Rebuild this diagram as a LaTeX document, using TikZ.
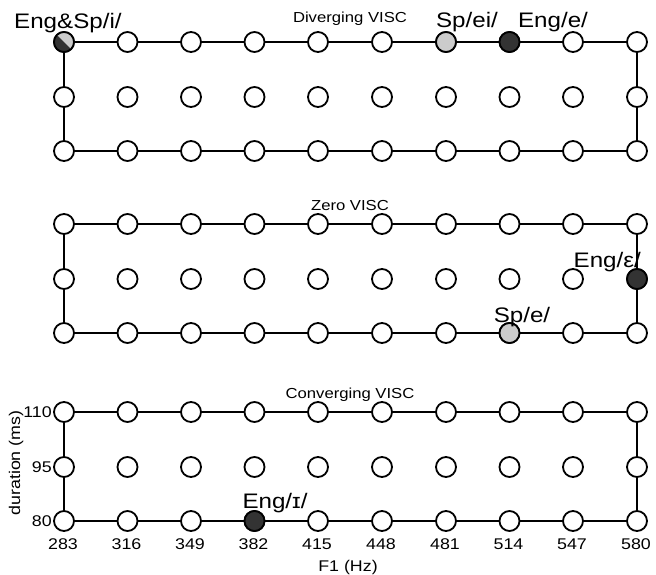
\documentclass[tikz,border=0pt]{standalone}
\usepackage{fontspec}
\setmainfont[FakeStretch=1.15]{Liberation Sans}
\usetikzlibrary{calc}
\definecolor{darkdot}{HTML}{333333}
\definecolor{lightdot}{HTML}{CCCCCC}
\tikzset{
  dot/.style={circle,draw=black,line width=1.8pt,fill=white,minimum size=20pt,inner sep=0pt},
  darkfill/.style={fill=darkdot},
  lightfill/.style={fill=lightdot},
  edge/.style={line width=2pt,draw=black},
  biglabel/.style={font=\fontsize{21}{21}\selectfont,inner sep=0pt},
  title/.style={font=\fontsize{14.5}{14.5}\selectfont,inner sep=0pt},
  tick/.style={font=\fontsize{15.5}{15.5}\selectfont,inner sep=0pt},
}
\begin{document}
\begin{tikzpicture}[x=1pt,y=-1pt]
\useasboundingbox (0,0) rectangle (656,574);
\def\xs{{64,127.5,191,254.5,318,382,446,509.5,573,637}}
\foreach \p/\ya/\yb/\yc in {d/42/97/151, z/224/279/333, c/412/467/521}{
  \foreach \i in {0,...,9}{
    \pgfmathsetmacro{\xx}{\xs[\i]}
    \coordinate (\p-\i-0) at (\xx,\ya);
    \coordinate (\p-\i-1) at (\xx,\yb);
    \coordinate (\p-\i-2) at (\xx,\yc);
  }
}
% edges
\foreach \p in {d,z,c}{
  \draw[edge] (\p-0-0) -- (\p-9-0) -- (\p-9-2) -- (\p-0-2) -- cycle;
}
% dots
\foreach \p in {d,z,c}{
  \foreach \i in {0,...,9}{
    \foreach \j in {0,1,2}{
      \node[dot] (\p-\i-\j-n) at (\p-\i-\j) {};
    }
  }
}
% coloured dots
\node[dot,lightfill] (sp-ei) at (d-6-0) {};
\node[dot,darkfill] (eng-e) at (d-7-0) {};
\node[dot,darkfill] (eng-eps) at (z-9-1) {};
\node[dot,lightfill] (sp-e) at (z-7-2) {};
\node[dot,darkfill] (eng-I) at (c-3-2) {};
% half-filled dot
\fill[lightdot] (d-0-0) circle[radius=10];
\fill[darkdot] ($(d-0-0)+(45:10)$) arc[start angle=45,end angle=225,radius=10] -- cycle;
\draw[line width=1.8pt] (d-0-0) circle[radius=10];
% titles
\node[title,anchor=base] (t1) at (350,22) {Diverging VISC};
\node[title,anchor=base] (t2) at (350,210) {Zero VISC};
\node[title,anchor=base] (t3) at (350,398) {Converging VISC};
% labels
\node[biglabel,anchor=base west] (l1) at (14,28) {Eng\&Sp/i/};
\node[biglabel,anchor=base] (l2) at (467,27) {Sp/ei/};
\node[biglabel,anchor=base] (l3) at (553,27) {Eng/e/};
\node[biglabel,anchor=base east] (l4) at (641,267) {Eng/ε/};
\node[biglabel,anchor=base] (l5) at (522,322) {Sp/e/};
\node[biglabel,anchor=base] (l6) at (275,508) {Eng/ɪ/};
% x ticks
\foreach \i/\v in {0/283,1/316,2/349,3/382,4/415,5/448,6/481,7/514,8/547,9/580}{
  \node[tick,anchor=base] (xt\i) at ($(c-\i-2)+(-1,28)$) {\v};
}
\node[tick,anchor=base] (xl) at (348,571) {F1 (Hz)};
% y ticks
\node[tick,anchor=east] (y1) at ($(c-0-0)+(-12,0)$) {110};
\node[tick,anchor=east] (y2) at ($(c-0-1)+(-12,0)$) {95};
\node[tick,anchor=east] (y3) at ($(c-0-2)+(-12,0)$) {80};
\node[tick,rotate=90] (yl) at (16,463) {duration (ms)};
\end{tikzpicture}
\end{document}
